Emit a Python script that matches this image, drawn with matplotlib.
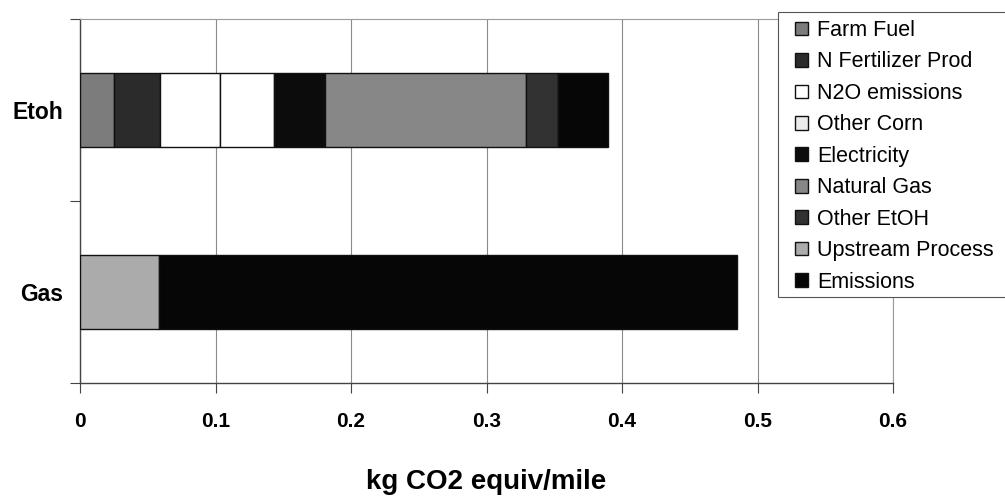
import numpy as np
import matplotlib
matplotlib.use('Agg')
import matplotlib.pyplot as plt

plt.rcParams['font.family'] = ['Liberation Sans', 'DejaVu Sans']

# data (kg CO2 equiv/mile)
fuels = ['Gas', 'Etoh']
farm_fuel = [0.0, 0.025]
n_fert = [0.0, 0.034]
n2o = [0.0, 0.044]
other_corn = [0.0, 0.040]
electricity = [0.0, 0.038]
natural_gas = [0.0, 0.148]
other_etoh = [0.0, 0.024]
upstream = [0.058, 0.0]
emissions = [0.427, 0.037]

series = [('Farm Fuel', farm_fuel, '#7c7c7c'),
          ('N Fertilizer Prod', n_fert, '#2b2b2b'),
          ('N2O emissions', n2o, '#ffffff'),
          ('Other Corn', other_corn, '#ffffff'),
          ('Electricity', electricity, '#0c0c0c'),
          ('Natural Gas', natural_gas, '#878787'),
          ('Other EtOH', other_etoh, '#323232'),
          ('Upstream Process', upstream, '#ababab'),
          ('Emissions', emissions, '#060606')]
legend_face = {'Other Corn': '#ebebeb'}

fig = plt.figure(figsize=(10.05, 4.99), dpi=100)
ax = fig.add_axes([80/1005, 1-383/499, (893-80)/1005, (383-19)/499])

ypos = np.arange(len(fuels))
left = np.zeros(len(fuels))
handles = []
for name, vals, col in series:
    vals = np.array(vals)
    ax.barh(ypos, vals, left=left, height=0.405, color=col, edgecolor='#111111', linewidth=1.0, zorder=3)
    left = left + vals
    handles.append(plt.Rectangle((0, 0), 1, 1, facecolor=legend_face.get(name, col), edgecolor='#111111', linewidth=1.0))

ax.set_xlim(0, 0.6)
ax.set_ylim(-0.5, 1.5)
ax.set_xticks(np.arange(0, 0.61, 0.1))
ax.set_xticklabels(['0', '0.1', '0.2', '0.3', '0.4', '0.5', '0.6'], fontsize=15, fontweight='bold')
ax.set_yticks(ypos)
ax.set_yticklabels(fuels, fontsize=16.5, fontweight='bold')
ax.set_yticks([-0.5, 0.5, 1.5], minor=True)
ax.tick_params(axis='y', which='major', length=0, pad=12)
ax.tick_params(axis='y', which='minor', length=7, width=0.8, color='#444444', direction='out')
ax.tick_params(axis='x', length=7, width=0.8, color='#444444', direction='out', pad=14)
ax.grid(axis='x', color='#8a8a8a', linewidth=0.8, zorder=0)

for s in ['top', 'right']:
    ax.spines[s].set_color('#9a9a9a')
    ax.spines[s].set_linewidth(0.8)
for s in ['left', 'bottom']:
    ax.spines[s].set_color('#444444')
    ax.spines[s].set_linewidth(1.0)

ax.set_xlabel('kg CO2 equiv/mile', fontsize=20, fontweight='bold', labelpad=27)

# legend box drawn by hand so it runs off the right edge like the original
fig.patches.append(plt.Rectangle((778/1005, 1-297/499), 0.3, (297-12)/499, transform=fig.transFigure,
                                 facecolor='white', edgecolor='#555555', linewidth=0.8, zorder=5))
leg = fig.legend(handles, [s[0] for s in series], loc='upper left',
                 bbox_to_anchor=(795/1005, 1-20/499), bbox_transform=fig.transFigure,
                 fontsize=15.5, handlelength=0.6, handleheight=0.6, handletextpad=0.42,
                 labelspacing=0.486, borderpad=0, borderaxespad=0, frameon=False)
leg.set_zorder(6)

fig.savefig('out.png', dpi=100)
